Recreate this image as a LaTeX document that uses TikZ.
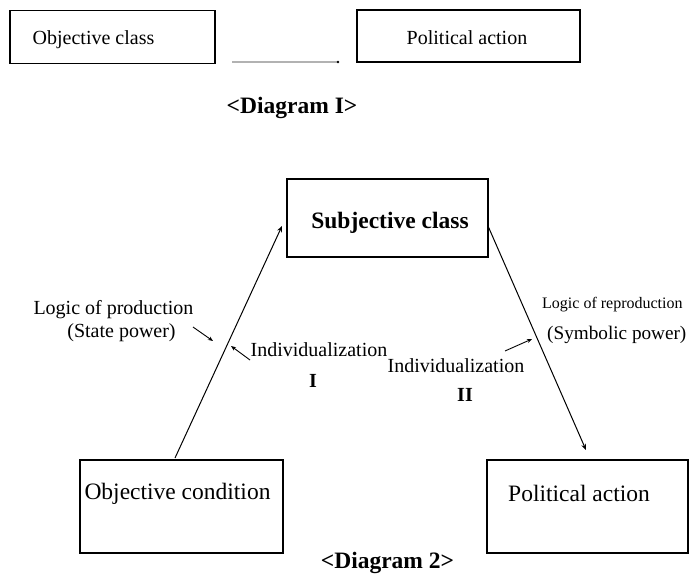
\documentclass[tikz,border=0pt]{standalone}
\usepackage{fontspec}
\setmainfont{Liberation Serif}
\usetikzlibrary{arrows.meta}
\begin{document}
\begin{tikzpicture}[x=1pt,y=-1pt,
  box/.style={draw,line width=1.1pt,inner sep=0pt},
  conn/.style={line width=1pt,-{Stealth[length=6pt,width=5pt]}},
  small/.style={line width=0.9pt,-{Stealth[length=5pt,width=4pt]}},
  lbl/.style={inner sep=0pt,font=\fontsize{20}{22}\selectfont},
  big/.style={inner sep=0pt,font=\fontsize{23.5}{26}\selectfont},
  boldlbl/.style={inner sep=0pt,font=\fontsize{23.5}{26}\selectfont\bfseries}]
\useasboundingbox (0,0) rectangle (689,579);
% Diagram I
\node[box,minimum width=205pt,minimum height=53pt] (oc) at (112.5,37) {};
\node[lbl] (octxt) at (93.5,40) {Objective class};
\node[box,minimum width=223pt,minimum height=52pt] (pa1) at (468.5,36) {};
\node[lbl] (pa1txt) at (467,38) {Political action};
\coordinate (l1a) at (232,62);
\coordinate (l1b) at (338,62);
\draw[gray!60,line width=1.2pt] (l1a) -- (l1b);
\fill (l1b) circle (1.4pt);
\node[boldlbl] (d1) at (292,108) {<Diagram I>};
% Diagram 2
\node[box,minimum width=201pt,minimum height=78pt] (sc) at (387.5,218) {};
\node[boldlbl] (sctxt) at (390,223) {Subjective class};
\node[box,minimum width=203pt,minimum height=93pt] (ocd) at (181.5,506.5) {};
\node[big] (ocdtxt) at (177.5,494) {Objective condition};
\node[box,minimum width=201pt,minimum height=93pt] (pa2) at (587.5,506.5) {};
\node[big] (pa2txt) at (579,493) {Political action};
\coordinate (a1s) at (175,458);
\coordinate (a1e) at (282,226);
\draw[conn] (a1s) -- (a1e);
\coordinate (a2s) at (488,226);
\coordinate (a2e) at (586,450);
\draw[conn] (a2s) -- (a2e);
\node[lbl] (lp) at (113.5,310) {Logic of production};
\node[lbl] (sp) at (121.5,333) {(State power)};
\coordinate (s1s) at (193,327);
\coordinate (s1e) at (213,341);
\draw[small] (s1s) -- (s1e);
\node[lbl] (ind1) at (319,350) {Individualization};
\coordinate (s2s) at (250,360);
\coordinate (s2e) at (231,346);
\draw[small] (s2s) -- (s2e);
\node[inner sep=0pt,font=\fontsize{20}{22}\selectfont\bfseries] (r1) at (313,381) {I};
\node[lbl] (ind2) at (456,366) {Individualization};
\coordinate (s3s) at (505,351);
\coordinate (s3e) at (532,339);
\draw[small] (s3s) -- (s3e);
\node[inner sep=0pt,font=\fontsize{20}{22}\selectfont\bfseries] (r2) at (465,395) {II};
\node[inner sep=0pt,anchor=west,font=\fontsize{16}{18}\selectfont] (lr) at (542,305) {Logic of reproduction};
\node[inner sep=0pt,anchor=west,font=\fontsize{19.2}{22}\selectfont] (symp) at (547,335) {(Symbolic power)};
\node[boldlbl] (d2) at (387.5,563) {<Diagram 2>};
\end{tikzpicture}
\end{document}
